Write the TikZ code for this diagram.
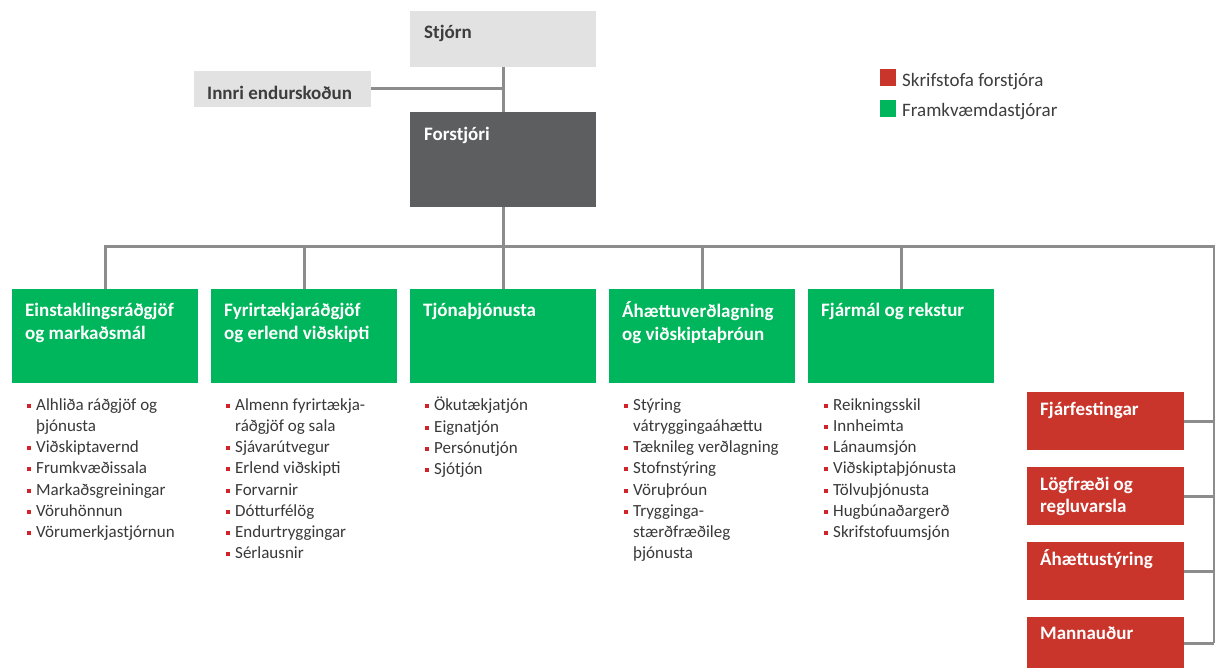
\documentclass[tikz,border=0pt]{standalone}
\usepackage{fontspec}
\setmainfont{Carlito}
\definecolor{lightbox}{HTML}{E2E2E2}
\definecolor{darkbox}{HTML}{5D5E60}
\definecolor{greenbox}{HTML}{00B65C}
\definecolor{redbox}{HTML}{C9342B}
\definecolor{conngray}{HTML}{8C8C8C}
\definecolor{darktext}{HTML}{3D3D3D}
\definecolor{listtext}{HTML}{383838}
\definecolor{bulletred}{HTML}{D0232A}
\newcommand{\hs}{\rule{0pt}{15pt}}
\newcommand{\ls}{\rule{0pt}{13pt}}
\newcommand{\bl}{\makebox[11pt][l]{\hspace{2pt}\textcolor{bulletred}{\rule[2.5pt]{4pt}{4pt}}}}
\newcommand{\ct}{\hspace*{11pt}}
\begin{document}
\begin{tikzpicture}[x=1pt,y=-1pt,
  boxbase/.style={draw=none,inner sep=0pt,outer sep=0pt,anchor=north west},
  graybox/.style={boxbase,fill=lightbox},
  ceobox/.style={boxbase,fill=darkbox},
  greenunit/.style={boxbase,fill=greenbox,minimum width=186pt,minimum height=94pt},
  redunit/.style={boxbase,fill=redbox,minimum width=157pt,minimum height=58pt},
  hdr/.style={inner sep=0pt,anchor=north west,align=left,font=\fontsize{19}{23}\selectfont\bfseries},
  listtxt/.style={inner sep=0pt,anchor=north west,align=left,text=listtext,font=\fontsize{17}{21.2}\selectfont},
  legtxt/.style={inner sep=0pt,anchor=base west,text=darktext,font=\fontsize{19}{23}\selectfont},
  conn/.style={draw=conngray,line width=3pt}]
\useasboundingbox (0,0) rectangle (1215,668);

% top boxes
\node[graybox,minimum width=186pt,minimum height=56pt] (stj) at (410,11) {};
\node[graybox,minimum width=177pt,minimum height=36pt] (inn) at (194,71) {};
\node[ceobox,minimum width=186pt,minimum height=95pt] (for) at (410,112) {};
\node[hdr,text=darktext] (stjt) at (424,23) {\hs Stjórn};
\node[hdr,text=darktext] (innt) at (207,84) {\hs Innri endurskoðun};
\node[hdr,text=white] (fort) at (424,125) {\hs Forstjóri};

% green units
\node[greenunit] (g1) at (12,289) {};
\node[greenunit] (g2) at (211,289) {};
\node[greenunit] (g3) at (410,289) {};
\node[greenunit] (g4) at (609,289) {};
\node[greenunit] (g5) at (808,289) {};
\node[hdr,text=white] (g1t) at (25,301) {\hs Einstaklingsráðgjöf\\og markaðsmál};
\node[hdr,text=white] (g2t) at (224,301) {\hs Fyrirtækjaráðgjöf\\og erlend viðskipti};
\node[hdr,text=white] (g3t) at (423,301) {\hs Tjónaþjónusta};
\node[hdr,text=white] (g4t) at (622,301) {\hs Áhættuverðlagning\\og viðskiptaþróun};
\node[hdr,text=white] (g5t) at (821,301) {\hs Fjármál og rekstur};

% lists
\node[listtxt] (l1) at (25,397) {\ls\bl Alhliða ráðgjöf og\\\ct þjónusta\\\bl Viðskiptavernd\\\bl Frumkvæðissala\\\bl Markaðsgreiningar\\\bl Vöruhönnun\\\bl Vörumerkjastjórnun};
\node[listtxt] (l2) at (224,397) {\ls\bl Almenn fyrirtækja-\\\ct ráðgjöf og sala\\\bl Sjávarútvegur\\\bl Erlend viðskipti\\\bl Forvarnir\\\bl Dótturfélög\\\bl Endurtryggingar\\\bl Sérlausnir};
\node[listtxt] (l3) at (423,397) {\ls\bl Ökutækjatjón\\\bl Eignatjón\\\bl Persónutjón\\\bl Sjótjón};
\node[listtxt] (l4) at (622,397) {\ls\bl Stýring\\\ct vátryggingaáhættu\\\bl Tæknileg verðlagning\\\bl Stofnstýring\\\bl Vöruþróun\\\bl Trygginga-\\\ct stærðfræðileg\\\ct þjónusta};
\node[listtxt] (l5) at (822,397) {\ls\bl Reikningsskil\\\bl Innheimta\\\bl Lánaumsjón\\\bl Viðskiptaþjónusta\\\bl Tölvuþjónusta\\\bl Hugbúnaðargerð\\\bl Skrifstofuumsjón};

% red units
\node[redunit] (r1) at (1027,392) {};
\node[redunit] (r2) at (1027,467) {};
\node[redunit] (r3) at (1027,542) {};
\node[redunit,minimum height=51pt] (r4) at (1027,617) {};
\node[hdr,text=white] (r1t) at (1040,400) {\hs Fjárfestingar};
\node[hdr,text=white,font=\fontsize{19}{22}\selectfont\bfseries] (r2t) at (1040,475) {\hs Lögfræði og\\regluvarsla};
\node[hdr,text=white] (r3t) at (1040,549) {\hs Áhættustýring};
\node[hdr,text=white] (r4t) at (1040,624) {\hs Mannauður};

% legend
\node[boxbase,fill=redbox,minimum width=16pt,minimum height=17pt] (lr) at (880,69) {};
\node[boxbase,fill=greenbox,minimum width=16pt,minimum height=17pt] (lg) at (880,100) {};
\node[legtxt] (lrt) at (902,87) {Skrifstofa forstjóra};
\node[legtxt] (lgt) at (902,117) {Framkvæmdastjórar};

% connectors
\coordinate (bus) at (503,247);
\coordinate (busR) at (1214,247);
\draw[conn] (stj.south) -- (for.north);
\draw[conn] (inn.east) -- (inn.east -| stj.south);
\draw[conn] (for.south) -- (bus);
\draw[conn,line join=miter] (g1.north) -- (g1.north |- bus) -- (busR) -- (busR |- r4.east);
\draw[conn] (g2.north) -- (g2.north |- bus);
\draw[conn] (g3.north) -- (g3.north |- bus);
\draw[conn] (g4.north) -- (g4.north |- bus);
\draw[conn] (g5.north) -- (g5.north |- bus);
\draw[conn] (r1.east) -- (r1.east -| busR);
\draw[conn] (r2.east) -- (r2.east -| busR);
\draw[conn] (r3.east) -- (r3.east -| busR);
\draw[conn] ([yshift=-26pt]r4.north east) -- ([yshift=-26pt]r4.north east -| busR);
\end{tikzpicture}
\end{document}
